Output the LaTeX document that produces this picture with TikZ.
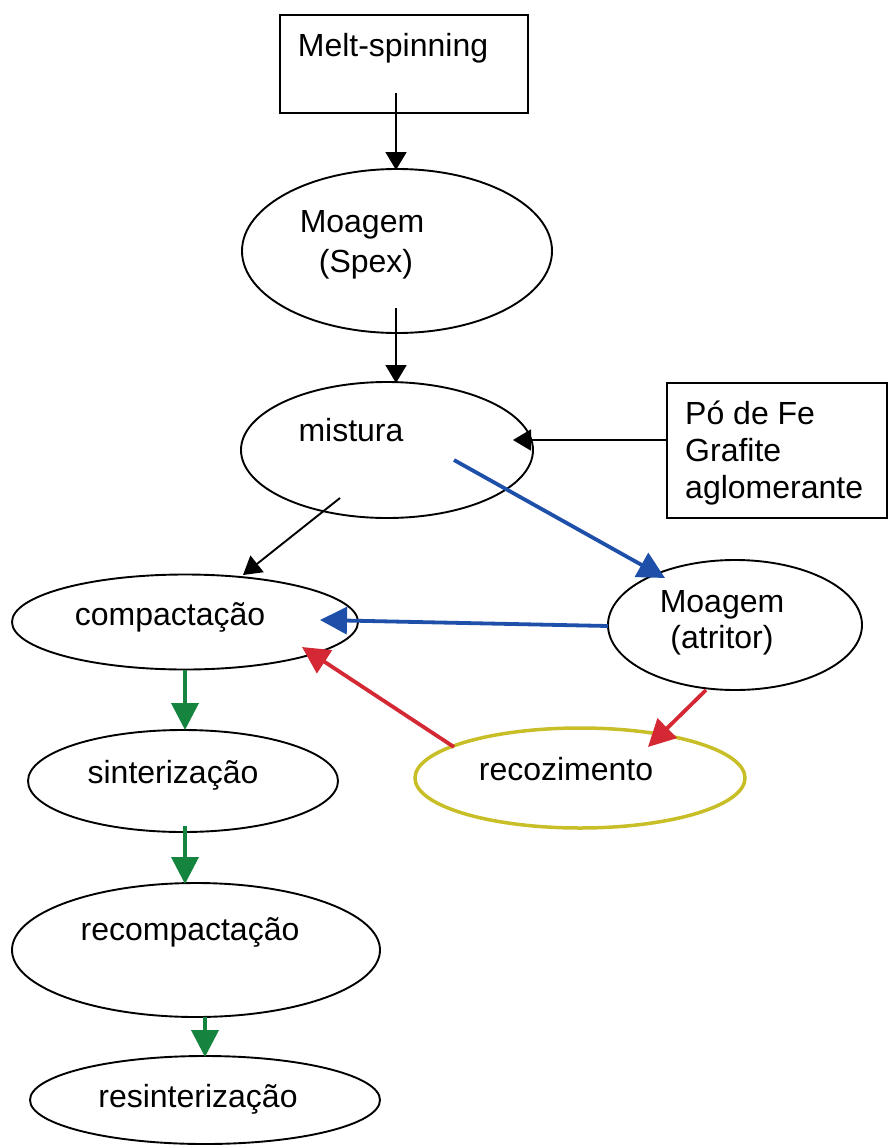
\documentclass[tikz,border=0pt]{standalone}
\usepackage{fontspec}
\setmainfont{Liberation Sans}
\usetikzlibrary{shapes.geometric,arrows.meta}
\definecolor{ablue}{RGB}{30,80,170}
\definecolor{ared}{RGB}{212,40,52}
\definecolor{agreen}{RGB}{20,132,62}
\definecolor{ayellow}{RGB}{200,190,40}
\begin{document}
\begin{tikzpicture}[x=1pt,y=-1pt,
  shp/.style={draw=black,line width=1.9pt,inner sep=0pt},
  ell/.style={shp,ellipse},
  rbox/.style={shp,rectangle},
  lbl/.style={inner sep=0pt,anchor=base,font=\fontsize{32}{38}\selectfont},
  blk/.style={draw=black,line width=1.9pt,-{Triangle[length=18pt,width=21pt]}},
  colarr/.style={line width=3.8pt,-{Triangle[length=27pt,width=27pt]}}]
\useasboundingbox (0,0) rectangle (890,1145);
\fill[white] (0,0) rectangle (890,1145);
% shapes
\node[rbox,minimum width=248pt,minimum height=98pt] (melt) at (404,64) {};
\node[ell,minimum width=310pt,minimum height=164pt] (spex) at (397,251) {};
\node[ell,minimum width=292pt,minimum height=136pt] (mistura) at (387,450) {};
\node[rbox,minimum width=220pt,minimum height=135pt] (pofe) at (777,450.5) {};
\node[ell,minimum width=346pt,minimum height=95pt] (compact) at (185,622) {};
\node[ell,minimum width=254pt,minimum height=130pt] (atritor) at (735,625) {};
\node[ell,minimum width=310pt,minimum height=102pt] (sinter) at (183,781) {};
\node[ell,draw=ayellow,line width=3.5pt,minimum width=330pt,minimum height=100pt] (recoz) at (580,778) {};
\node[ell,minimum width=368pt,minimum height=134pt] (recomp) at (196,950) {};
\node[ell,minimum width=350pt,minimum height=88pt] (resint) at (205,1100) {};
% labels
\node[lbl] (tmelt) at (393,57) {Melt-spinning};
\node[lbl] (tspexa) at (362,232) {Moagem};
\node[lbl] (tspexb) at (366,272) {(Spex)};
\node[lbl] (tmist) at (351,441) {mistura};
\node[lbl,anchor=base west] (tpa) at (685,424) {Pó de Fe};
\node[lbl,anchor=base west] (tpb) at (685,461) {Grafite};
\node[lbl,anchor=base west] (tpc) at (685,498) {aglomerante};
\node[lbl] (tcomp) at (170,625) {compactação};
\node[lbl] (tatra) at (722,612) {Moagem};
\node[lbl] (tatrb) at (722,648) {(atritor)};
\node[lbl] (tsint) at (173,783) {sinterização};
\node[lbl] (trecz) at (566,780) {recozimento};
\node[lbl] (trecp) at (190,940) {recompactação};
\node[lbl] (tresi) at (198,1107) {resinterização};
% connector end points
\coordinate (meltS) at (396,93);
\coordinate (spexT) at (396,170);
\coordinate (spexS) at (396,308);
\coordinate (mistT) at (396,383);
\coordinate (pofeS) at (667,440);
\coordinate (mistR) at (513,440);
\coordinate (mistA) at (340,498);
\coordinate (compT) at (243,575);
\coordinate (mistB) at (454,460);
\coordinate (atrT) at (665,578);
\coordinate (atrL) at (608,626);
\coordinate (compR) at (320,620);
\coordinate (atrB) at (706,690);
\coordinate (recT) at (648,747);
\coordinate (recL) at (454,747);
\coordinate (compB) at (302,647);
\coordinate (compS) at (185,670);
\coordinate (sintT) at (185,730);
\coordinate (sintS) at (185,826);
\coordinate (recpT) at (185,884);
\coordinate (recpS) at (205,1017);
\coordinate (resT) at (205,1057);
% connectors
\draw[blk] (meltS) -- (spexT);
\draw[blk] (spexS) -- (mistT);
\draw[blk] (pofeS) -- (mistR);
\draw[blk] (mistA) -- (compT);
\draw[colarr,ablue] (mistB) -- (atrT);
\draw[colarr,ablue] (atrL) -- (compR);
\draw[colarr,ared] (atrB) -- (recT);
\draw[colarr,ared] (recL) -- (compB);
\draw[colarr,agreen] (compS) -- (sintT);
\draw[colarr,agreen] (sintS) -- (recpT);
\draw[colarr,agreen] (recpS) -- (resT);
\end{tikzpicture}
\end{document}
